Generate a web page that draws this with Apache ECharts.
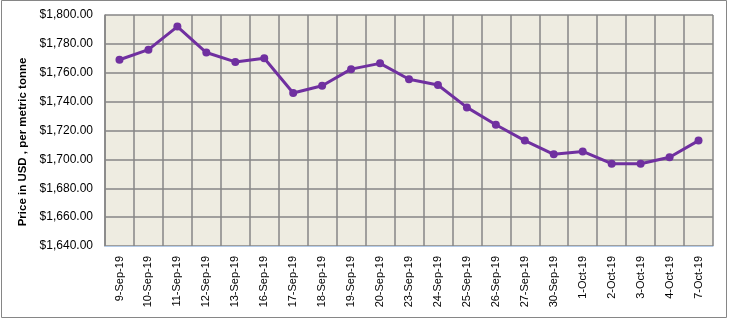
<!DOCTYPE html>
<html>
<head>
<meta charset="utf-8">
<script src="https://cdn.jsdelivr.net/npm/echarts@6/dist/echarts.min.js"></script>
<style>
  html, body { margin: 0; padding: 0; background: #fff; }
  #chart { width: 729px; height: 319px; }
</style>
</head>
<body>
<div id="chart"></div>
<script>
// dates and prices
const dates = [
  '9-Sep-19', '10-Sep-19', '11-Sep-19', '12-Sep-19', '13-Sep-19', '16-Sep-19',
  '17-Sep-19', '18-Sep-19', '19-Sep-19', '20-Sep-19', '23-Sep-19', '24-Sep-19',
  '25-Sep-19', '26-Sep-19', '27-Sep-19', '30-Sep-19', '1-Oct-19', '2-Oct-19',
  '3-Oct-19', '4-Oct-19', '7-Oct-19'
];
const prices = [
  1769, 1776, 1792, 1774, 1767.5, 1770,
  1746, 1751, 1762.5, 1766.5, 1755.5, 1751.5,
  1736, 1724, 1713, 1703.5, 1705.5, 1697,
  1697, 1701.5, 1713
];
const yMin = 1640;
const yMax = 1800;
const yStep = 20;
const yTitle = 'Price in USD , per metric tonne';

const chart = echarts.init(document.getElementById('chart'));

const fmt = v => '$' + v.toLocaleString('en-US', { minimumFractionDigits: 2, maximumFractionDigits: 2 });

chart.setOption({
  animation: false,
  graphic: [{
    type: 'rect',
    shape: { x: 1.5, y: 0.5, width: 725, height: 317 },
    style: { fill: 'none', stroke: '#868686', lineWidth: 1 },
    z: 10
  }, {
    // y axis title, sits a bit lower than the plot centre like the original
    type: 'text',
    x: 23,
    y: 142,
    rotation: Math.PI / 2,
    style: {
      text: yTitle,
      fill: '#000',
      font: 'bold 11.5px "Liberation Sans"',
      align: 'center',
      verticalAlign: 'middle'
    }
  }],
  grid: {
    left: 105,
    right: 16,
    top: 15,
    bottom: 73,
    show: true,
    backgroundColor: '#EEECE1',
    borderWidth: 0
  },
  xAxis: {
    type: 'category',
    data: dates,
    boundaryGap: true,
    axisLine: { show: true, lineStyle: { color: '#B4CBE8', width: 1 } },
    axisTick: { show: false },
    axisLabel: {
      rotate: 90,
      interval: 0,
      margin: 10,
      color: '#000',
      fontFamily: 'Liberation Sans',
      fontSize: 11
    },
    splitLine: { show: true, interval: 0, lineStyle: { color: '#868686', width: 1.5 } }
  },
  yAxis: {
    type: 'value',
    min: yMin,
    max: yMax,
    interval: yStep,
    axisLine: { show: true, lineStyle: { color: '#868686', width: 1.5 } },
    axisTick: { show: false },
    axisLabel: {
      formatter: fmt,
      margin: 12,
      color: '#000',
      fontFamily: 'Liberation Sans',
      fontSize: 12
    },
    splitLine: { show: true, lineStyle: { color: '#868686', width: 1.5 } }
  },
  series: [{
    type: 'line',
    data: prices,
    symbol: 'circle',
    symbolSize: 8,
    lineStyle: { color: '#7030A0', width: 3 },
    itemStyle: { color: '#7030A0' }
  }]
});
</script>
</body>
</html>
